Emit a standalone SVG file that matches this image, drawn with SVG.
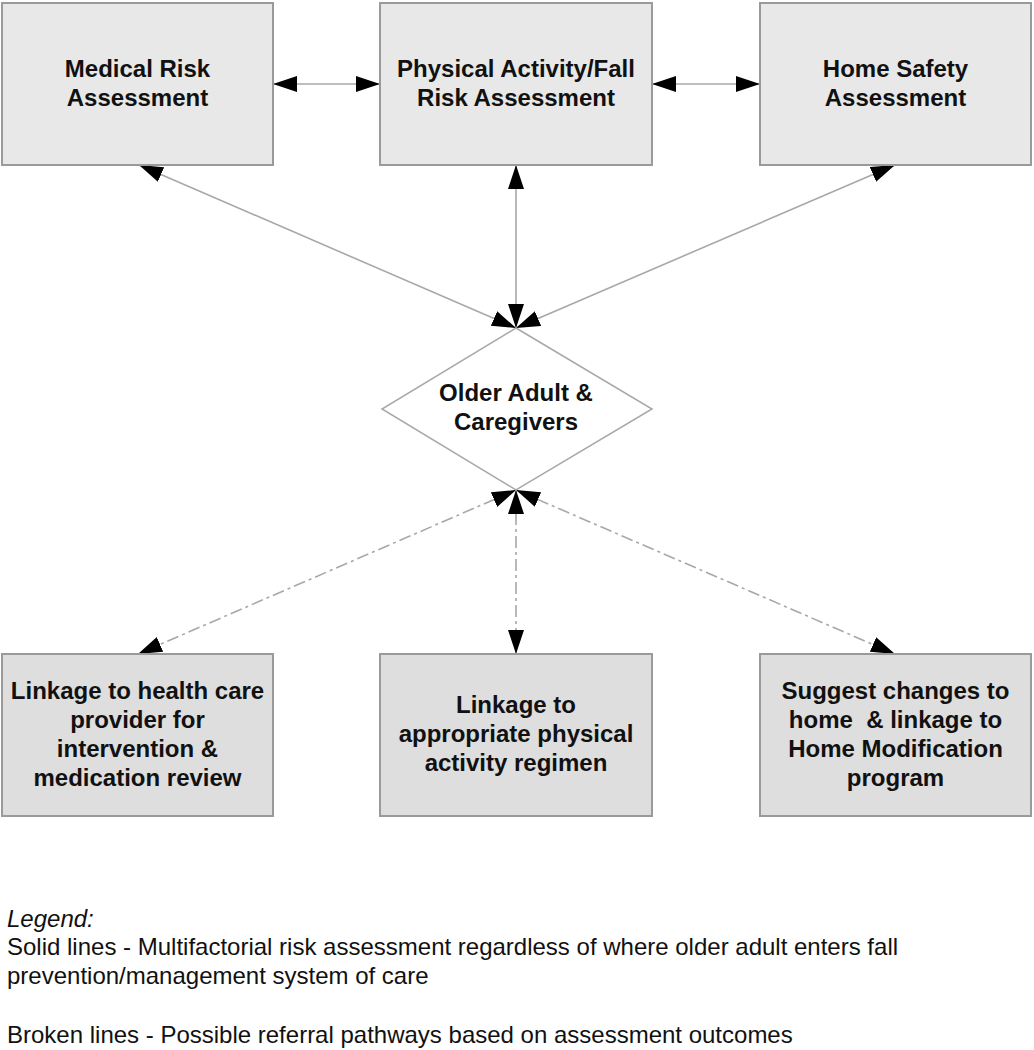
<svg xmlns="http://www.w3.org/2000/svg" width="1034" height="1050" viewBox="0 0 1034 1050">
<style>
.box{fill:#e8e8e8;stroke:#9a9a9a;stroke-width:2}
.box2{fill:#dedede;stroke:#9a9a9a;stroke-width:2}
.dia{fill:#ffffff;stroke:#a8a8a8;stroke-width:1.5}
.t{font-family:"Liberation Sans",Arial,sans-serif;font-weight:bold;font-size:24px;fill:#111;text-anchor:middle}
.lg{font-family:"Liberation Sans",Arial,sans-serif;font-size:24px;fill:#111}
.c{stroke:#a8a8a8;stroke-width:1.6;fill:none;marker-start:url(#ah);marker-end:url(#ah)}
.d{stroke-dasharray:12 4 3 4}
</style>
<defs>
<marker id="ah" viewBox="0 0 24 16" refX="24" refY="8" markerWidth="24" markerHeight="16" markerUnits="userSpaceOnUse" orient="auto-start-reverse">
<path d="M0,0 L24,8 L0,16 z" fill="#000"/>
</marker>
</defs>
<g id="connectors">
<line class="c" x1="273" y1="84" x2="380" y2="84"/>
<line class="c" x1="652" y1="84" x2="760" y2="84"/>
<line class="c" x1="139" y1="165" x2="516" y2="328"/>
<line class="c" x1="516" y1="165" x2="516" y2="328"/>
<line class="c" x1="895" y1="165" x2="516" y2="328"/>
<line class="c d" x1="516" y1="490" x2="138" y2="654"/>
<line class="c d" x1="516" y1="490" x2="516" y2="654"/>
<line class="c d" x1="516" y1="490" x2="895" y2="654"/>
</g>
<g id="medical">
<rect class="box" x="2" y="3" width="271" height="162"/>
<text class="t" x="137.5" y="77">Medical Risk</text>
<text class="t" x="137.5" y="106">Assessment</text>
</g>
<g id="physical">
<rect class="box" x="380" y="3" width="272" height="162"/>
<text class="t" x="516" y="77">Physical Activity/Fall</text>
<text class="t" x="516" y="106">Risk Assessment</text>
</g>
<g id="home">
<rect class="box" x="760" y="3" width="271" height="162"/>
<text class="t" x="895.5" y="77">Home Safety</text>
<text class="t" x="895.5" y="106">Assessment</text>
</g>
<g id="older">
<polygon class="dia" points="516,328 652,409 516,490 382,409"/>
<text class="t" x="516" y="401">Older Adult &amp;</text>
<text class="t" x="516" y="430">Caregivers</text>
</g>
<g id="linkHealth">
<rect class="box2" x="2" y="654" width="271" height="162"/>
<text class="t" x="137.5" y="699">Linkage to health care</text>
<text class="t" x="137.5" y="728">provider for</text>
<text class="t" x="137.5" y="757">intervention &amp;</text>
<text class="t" x="137.5" y="786">medication review</text>
</g>
<g id="linkActivity">
<rect class="box2" x="380" y="654" width="272" height="162"/>
<text class="t" x="516" y="713">Linkage to</text>
<text class="t" x="516" y="742">appropriate physical</text>
<text class="t" x="516" y="771">activity regimen</text>
</g>
<g id="homeMod">
<rect class="box2" x="760" y="654" width="271" height="162"/>
<text class="t" x="895.5" y="699">Suggest changes to</text>
<text class="t" x="895.5" y="728" xml:space="preserve">home  &amp; linkage to</text>
<text class="t" x="895.5" y="757">Home Modification</text>
<text class="t" x="895.5" y="786">program</text>
</g>
<g id="legend">
<text class="lg" x="7" y="927" font-style="italic">Legend:</text>
<text class="lg" x="7" y="955">Solid lines - Multifactorial risk assessment regardless of where older adult enters fall</text>
<text class="lg" x="7" y="984">prevention/management system of care</text>
<text class="lg" x="7" y="1043">Broken lines - Possible referral pathways based on assessment outcomes</text>
</g>
</svg>
